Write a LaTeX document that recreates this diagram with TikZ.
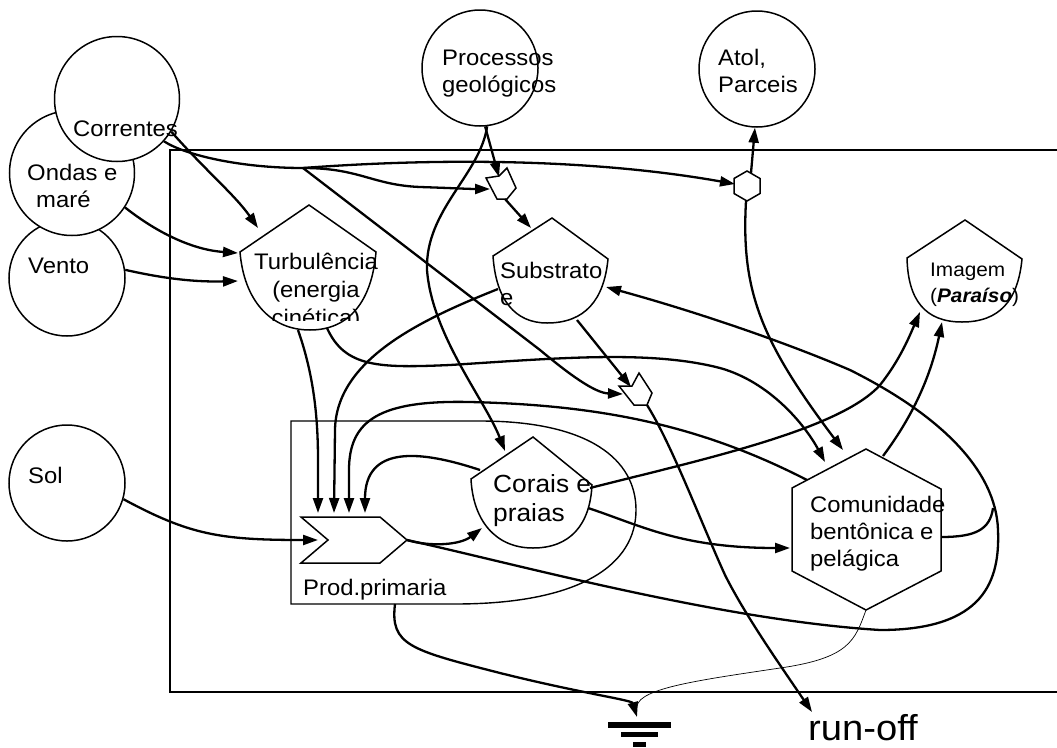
\documentclass[tikz,border=0pt]{standalone}
\usepackage{fontspec}
\setmainfont{Liberation Sans}[FakeStretch=1.06]
\usetikzlibrary{arrows.meta}

\tikzset{
  source/.style={circle, draw, line width=1.5pt, fill=white, inner sep=0pt},
  outline/.style={draw, line width=1.5pt, fill=white},
  frame/.style={line width=1.4pt},
  flow/.style={line width=2.3pt, -{Triangle[length=15pt,width=10pt]}},
  flowplain/.style={line width=2.3pt},
  thinflow/.style={line width=0.7pt},
  lbl/.style={inner sep=0pt, anchor=base west, align=left,
              font=\fontsize{22.5}{27}\selectfont},
}

\begin{document}
\begin{tikzpicture}[x=1pt,y=-1pt]
\fill[white] (0,0) rectangle (1057,747);
\useasboundingbox (0,0) rectangle (1057,747);

% system frame, open on the right
\draw[frame] (1057,150) -- (170,150) -- (170,692) -- (1057,692);

% outside sources
\node[source, minimum size=116pt] (vento) at (67,278) {};
\node[source, minimum size=125pt] (ondas) at (72,173) {};
\node[source, minimum size=125pt] (correntes) at (117,99) {};
\node[source, minimum size=116pt] (sol) at (67,483) {};
\node[source, minimum size=116pt] (processos) at (480,68) {};
\node[source, minimum size=116pt] (atol) at (757,69) {};

% primary production boundary
\draw[frame] (291,421) -- (480,421) .. controls (590,421) and (636,460) .. (636,510)
  .. controls (636,565) and (580,604) .. (455,604) -- (291,604) -- cycle;

% Turbulência
\draw[outline] (240,252) -- (309,205) -- (376,252) .. controls (372,300) and (350,330) .. (310,330)
  .. controls (270,330) and (244,300) .. (240,252) -- cycle;
% Substrato
\draw[outline] (493,256) -- (552,218) -- (608,259) .. controls (604,300) and (585,323) .. (547,323)
  .. controls (515,323) and (496,300) .. (493,256) -- cycle;
% Imagem
\draw[outline] (907,258) -- (965,220) -- (1022,259) .. controls (1018,300) and (1000,322) .. (962,322)
  .. controls (925,322) and (908,300) .. (907,258) -- cycle;
% Corais e praias
\draw[outline] (471,479) -- (533,437) -- (592,485) .. controls (590,525) and (570,548) .. (533,548)
  .. controls (495,548) and (473,520) .. (471,479) -- cycle;
% Comunidade (consumer hexagon)
\draw[outline] (866,449) -- (941,489) -- (941,571) -- (866,610) -- (792,571) -- (792,488) -- cycle;
% small exchange hexagon
\draw[outline] (747,171) -- (760,178.5) -- (760,193.5) -- (747,201) -- (734,193.5) -- (734,178.5) -- cycle;
% interaction gates
\draw[outline] (486,178) -- (499,176) -- (507,168) -- (516,188) -- (507,199) -- (497,199) -- cycle;
\draw[outline] (619,386) -- (632,386) -- (639,373) -- (652,393) -- (647,405) -- (634,405) -- cycle;
% production chevron
\draw[outline] (301,517) -- (380,517) -- (407,540) -- (380,563) -- (301,563) -- (328,540) -- cycle;

% heat sink
\fill (608,722) rectangle (671,728);
\fill (621,732) rectangle (658,737);
\fill (633,742) rectangle (646,747);

% ports
\coordinate (J1) at (303,168);
\coordinate (turb-n) at (258,228);
\coordinate (turb-w1) at (238,253);
\coordinate (turb-w2) at (238,281);
\coordinate (turb-s) at (298,330);
\coordinate (turb-se) at (327,328);
\coordinate (subst-nw) at (531,228);
\coordinate (subst-w) at (498,289);
\coordinate (subst-e) at (606,287);
\coordinate (subst-s) at (577,320);
\coordinate (i1-w) at (490,189);
\coordinate (i1-n) at (499,177);
\coordinate (i1-s) at (505,199);
\coordinate (i2-w) at (623,394);
\coordinate (i2-n) at (631,387);
\coordinate (i2-s) at (647,405);
\coordinate (hexs-w) at (735,184);
\coordinate (hexs-n) at (751,173);
\coordinate (hexs-s) at (746,201);
\coordinate (comu-n1) at (843,450);
\coordinate (comu-n2) at (825,462);
\coordinate (comu-nw) at (807,480);
\coordinate (comu-ne) at (883,456);
\coordinate (comu-w) at (790,548);
\coordinate (comu-e) at (941,537);
\coordinate (comu-s) at (866,610);
\coordinate (corais-nw) at (505,451);
\coordinate (corais-w) at (480,470);
\coordinate (corais-sw) at (482,528);
\coordinate (corais-e) at (590,488);
\coordinate (corais-se) at (588,508);
\coordinate (img-sw) at (920,312);
\coordinate (img-s) at (942,322);
\coordinate (prod-in1) at (318,513);
\coordinate (prod-in2) at (334,513);
\coordinate (prod-in3) at (349,513);
\coordinate (prod-in4) at (365,513);
\coordinate (prod-w) at (318,540);
\coordinate (prod-e) at (407,540);
\coordinate (prod-box-s) at (395,604);
\coordinate (loop-j) at (993,508);
\coordinate (ground) at (637,717);
\coordinate (ground-top) at (637,706);
\coordinate (runoff-in) at (812,712);

% flows
\draw[flow] (correntes.-31) .. controls (205,170) and (235,195) .. (turb-n);
\draw[flow] (ondas.-33) .. controls (160,235) and (195,250) .. (turb-w1);
\draw[flow] (vento.8) .. controls (170,280) and (200,282) .. (turb-w2);

\draw[flowplain] (correntes.-42) .. controls (185,155) and (240,168) .. (J1);
\draw[flow] (J1) .. controls (450,157) and (600,160) .. (hexs-w);
\draw[flow] (J1) .. controls (360,168) and (372,185) .. (420,187) .. controls (450,188) and (470,189) .. (i1-w);
\draw[flow] (J1) -- (540,350) .. controls (570,375) and (595,393) .. (i2-w);

\draw[flow] (processos.-85) -- (i1-n);
\draw[flow] (processos.-83) .. controls (480,175) and (425,210) .. (427,270)
  .. controls (432,335) and (485,400) .. (corais-nw);
\draw[flow] (i1-s) -- (subst-nw);

\draw[flow] (hexs-n) -- (atol.-92);
\draw[flow] (hexs-s) .. controls (741,290) and (760,340) .. (comu-n1);

\draw[flow] (turb-se) .. controls (345,368) and (380,368) .. (450,365)
  .. controls (560,358) and (650,350) .. (720,368) .. controls (770,382) and (805,425) .. (comu-n2);
\draw[flow] (turb-s) .. controls (312,370) and (318,410) .. (318,460) -- (prod-in1);
\draw[flow] (subst-w) .. controls (420,320) and (336,360) .. (335,430) -- (prod-in2);
\draw[flow] (comu-nw) .. controls (700,425) and (600,405) .. (470,402)
  .. controls (380,400) and (349,420) .. (349,470) -- (prod-in3);
\draw[flow] (corais-w) .. controls (420,450) and (365,445) .. (prod-in4);

\draw[flow] (sol.-16) .. controls (190,535) and (220,540) .. (prod-w);
\draw[flow] (prod-e) .. controls (430,547) and (460,545) .. (corais-sw);
\draw[flow] (prod-e) .. controls (520,565) and (720,620) .. (880,630)
  .. controls (985,630) and (1000,580) .. (998,530)
  .. controls (996,470) and (940,415) .. (850,370)
  .. controls (780,340) and (690,310) .. (subst-e);
\draw[flowplain] (comu-e) .. controls (975,537) and (990,530) .. (loop-j);

\draw[flow] (corais-e) .. controls (700,460) and (840,430) .. (880,385)
  .. controls (900,360) and (910,335) .. (img-sw);
\draw[flow] (comu-ne) .. controls (910,420) and (930,380) .. (img-s);
\draw[flow] (corais-se) .. controls (640,525) and (680,548) .. (comu-w);

\draw[flow] (subst-s) -- (i2-n);
\draw[flow] (i2-s) .. controls (672,445) and (700,520) .. (725,575)
  .. controls (745,615) and (780,665) .. (runoff-in);

\draw[flow] (prod-box-s) .. controls (390,645) and (410,650) .. (500,673)
  .. controls (580,693) and (632,700) .. (ground);
\draw[thinflow] (comu-s) .. controls (855,640) and (850,658) .. (780,668)
  .. controls (700,680) and (640,688) .. (ground-top);

% labels (multi-line labels sit on the baseline of their last line)
\node[lbl] (t-correntes) at (73,136) {Correntes};
\node[lbl] (t-ondas) at (27,207) {Ondas e\\\hspace*{9pt}maré};
\node[lbl] (t-vento) at (28,273) {Vento};
\node[lbl] (t-sol) at (28,483) {Sol};
\node[lbl] (t-processos) at (442,92) {Processos\\geológicos};
\node[lbl] (t-atol) at (718,92) {Atol,\\Parceis};
\begin{scope}
  % the third line is cut off by the text frame
  \clip (235,235) rectangle (385,320);
  \node[lbl, align=center, anchor=base, font=\fontsize{22.5}{28}\selectfont]
    (t-turb) at (316,325) {Turbulência\\(energia\\cinética)};
\end{scope}
\node[lbl] (t-subst) at (500,305) {Substrato\\e};
\node[lbl, font=\fontsize{19.6}{26}\selectfont] (t-img) at (930,302) {Imagem\\(\textbf{\textit{Paraíso}})};
\node[lbl, font=\fontsize{24.8}{29}\selectfont] (t-corais) at (493,521) {Corais e\\praias};
\node[lbl] (t-comu) at (810,566) {Comunidade\\bentônica e\\pelágica};
\node[lbl] (t-prod) at (303,595) {Prod.primaria};
\node[lbl, font=\fontsize{36}{40}\selectfont] (t-runoff) at (808,740) {run-off};

\end{tikzpicture}
\end{document}
